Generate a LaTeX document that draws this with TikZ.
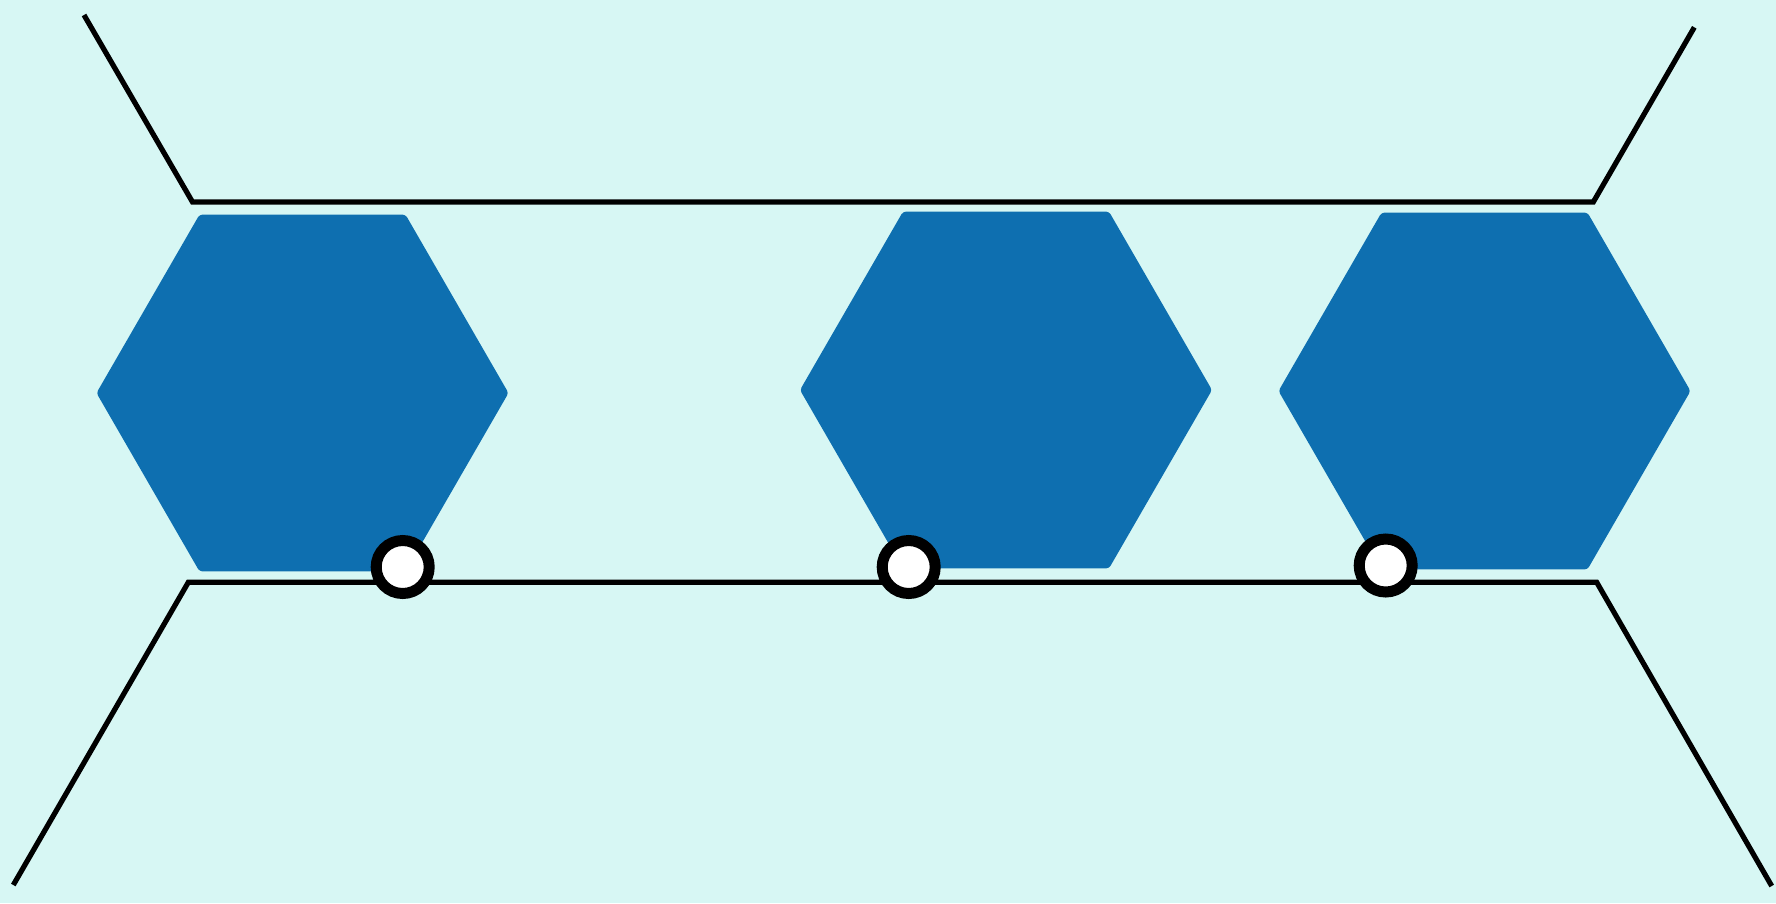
\documentclass[tikz,border=0pt]{standalone}
\usetikzlibrary{shapes.geometric}
\definecolor{bgcol}{RGB}{215,247,244}
\definecolor{hexblue}{RGB}{14,111,176}
\tikzset{
  hexnode/.style={regular polygon, regular polygon sides=6, minimum size=412pt, inner sep=0pt, fill=hexblue, draw=none, rounded corners=3pt},
  ringnode/.style={circle, minimum size=53pt, inner sep=0pt, fill=white, draw=black, line width=11pt},
  rail/.style={draw=black, line width=5.2pt, line join=miter}
}
\begin{document}
\begin{tikzpicture}[x=1pt,y=-1pt]
\fill[bgcol] (0,0) rectangle (1776,903);
\useasboundingbox (0,0) rectangle (1776,903);
% rails
\coordinate (tl0) at (84,15);
\coordinate (tl1) at (192.5,202);
\coordinate (tr1) at (1593.3,202);
\coordinate (tr0) at (1694.3,27.3);
\coordinate (bl0) at (13.3,885);
\coordinate (bl1) at (188.3,582.3);
\coordinate (br1) at (1596.7,582.3);
\coordinate (br0) at (1771.7,886);
\draw[rail] (tl0) -- (tl1) -- (tr1) -- (tr0);
\draw[rail] (bl0) -- (bl1) -- (br1) -- (br0);
% hexagons
\node[hexnode] (h1) at (302.5,393) {};
\node[hexnode] (h2) at (1006,390) {};
\node[hexnode] (h3) at (1484.5,391) {};
% rings
\node[ringnode] (c1) at (402.7,567) {};
\node[ringnode] (c2) at (908.7,567) {};
\node[ringnode] (c3) at (1385.7,565.5) {};
\end{tikzpicture}
\end{document}
